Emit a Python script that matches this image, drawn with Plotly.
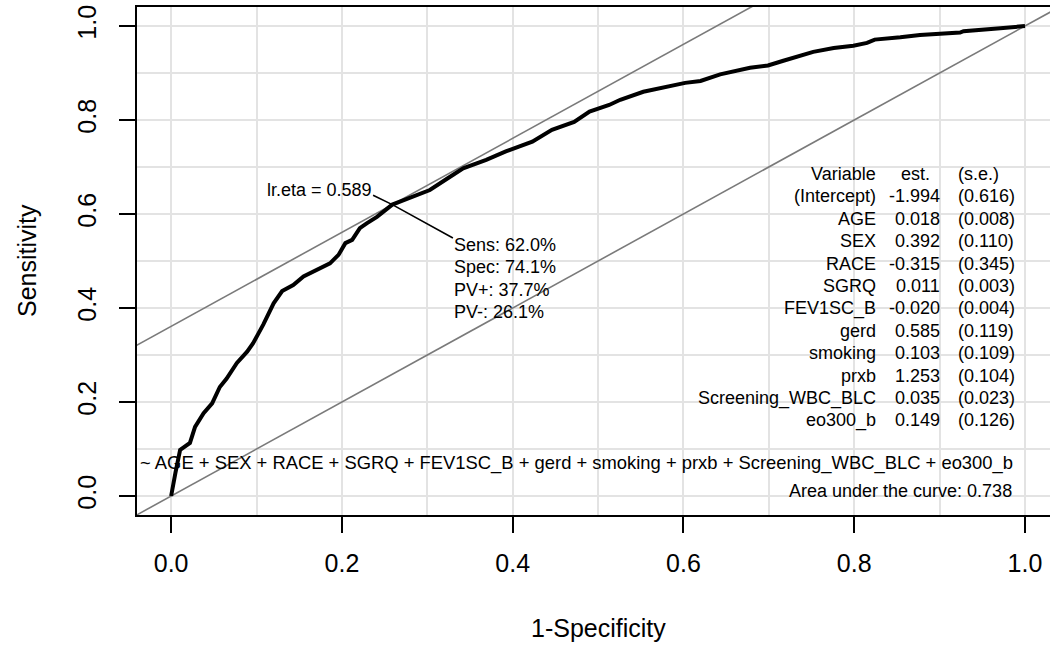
import plotly.graph_objects as go

# ---- data ----
fpr = [0.0, 0.003, 0.005, 0.0105, 0.022, 0.028, 0.038, 0.048, 0.057, 0.065, 0.077, 0.089, 0.096,
       0.108, 0.12, 0.13, 0.143, 0.155, 0.171, 0.186, 0.196, 0.204, 0.212, 0.221, 0.229, 0.241,
       0.259, 0.284, 0.303, 0.324, 0.342, 0.369, 0.392, 0.423, 0.446, 0.472, 0.49, 0.513, 0.526,
       0.553, 0.58, 0.602, 0.62, 0.643, 0.678, 0.699, 0.717, 0.737, 0.752, 0.776, 0.799, 0.815,
       0.824, 0.854, 0.877, 0.924, 0.928, 0.971, 1.0]
tpr = [0.0, 0.034, 0.049, 0.098, 0.113, 0.147, 0.176, 0.197, 0.232, 0.25, 0.283, 0.307, 0.325,
       0.365, 0.41, 0.436, 0.449, 0.467, 0.481, 0.495, 0.513, 0.538, 0.545, 0.57, 0.58, 0.594,
       0.620, 0.637, 0.651, 0.676, 0.697, 0.715, 0.733, 0.754, 0.779, 0.796, 0.818, 0.832, 0.843,
       0.86, 0.87, 0.879, 0.883, 0.897, 0.911, 0.916, 0.926, 0.938, 0.945, 0.953, 0.958, 0.964,
       0.971, 0.976, 0.981, 0.986, 0.989, 0.995, 1.0]

opt_fpr = 1 - 0.741
opt_sens = 0.620
youden_intercept = opt_sens - opt_fpr
lr_eta = "lr.eta = 0.589"
opt_stats = ["Sens: 62.0%", "Spec: 74.1%", "PV+: 37.7%", "PV-: 26.1%"]

variables = ["(Intercept)", "AGE", "SEX", "RACE", "SGRQ", "FEV1SC_B", "gerd", "smoking",
             "prxb", "Screening_WBC_BLC", "eo300_b"]
estimates = ["-1.994", "0.018", "0.392", "-0.315", "0.011", "-0.020", "0.585", "0.103",
             "1.253", "0.035", "0.149"]
std_errors = ["(0.616)", "(0.008)", "(0.110)", "(0.345)", "(0.003)", "(0.004)", "(0.119)",
              "(0.109)", "(0.104)", "(0.023)", "(0.126)"]
formula = "~ " + " + ".join(variables[1:])
auc_text = "Area under the curve: 0.738"

x_ticks = [0.0, 0.2, 0.4, 0.6, 0.8, 1.0]
y_ticks = [0.0, 0.2, 0.4, 0.6, 0.8, 1.0]

# ---- layout constants ----
W, H = 1050, 645
ML, MR, MT, MB = 137, 0, 7, 130
XR = [-0.04, 1.0293]
YR = [-0.0404, 1.0404]
FONT = "Liberation Sans, Arial, Helvetica, sans-serif"
GRAY = "#7a7a7a"
GRID = "#e3e3e3"

fig = go.Figure()

# reference lines (abline style, extended beyond the plot area and clipped)
ext = [-0.2, 1.2]
fig.add_trace(go.Scatter(x=ext, y=[v for v in ext], mode="lines",
                         line=dict(color=GRAY, width=1.6), hoverinfo="skip"))
fig.add_trace(go.Scatter(x=ext, y=[v + youden_intercept for v in ext], mode="lines",
                         line=dict(color=GRAY, width=1.6), hoverinfo="skip"))

# ROC curve
fig.add_trace(go.Scatter(x=fpr, y=tpr, mode="lines",
                         line=dict(color="black", width=4), hoverinfo="skip"))

# pointer line from lr.eta label to stats text through optimal point
fig.add_trace(go.Scatter(x=[0.2365, opt_fpr, 0.330], y=[0.640, opt_sens, 0.549], mode="lines",
                         line=dict(color="black", width=1.6), hoverinfo="skip"))

annotations = []

def txt(x, y, s, xanchor, size=18):
    annotations.append(dict(x=x, y=y, xref="x", yref="y", text=s, showarrow=False,
                            xanchor=xanchor, yanchor="middle",
                            font=dict(family=FONT, size=size, color="black"), borderpad=0))

txt(0.2365, 0.651, lr_eta, "right")
for i, s in enumerate(opt_stats):
    txt(0.330, (496 - (245 + 22.4 * i)) / 470, s, "left")

# coefficient table
row0 = 174
step = 22.4
txt(0.8267, (496 - row0) / 470, "Variable", "right")
txt(0.890, (496 - row0) / 470, "est.", "right")
txt(0.9204, (496 - row0) / 470, "(s.e.)", "left")
for i, (v, e, se) in enumerate(zip(variables, estimates, std_errors)):
    yy = (496 - (row0 + step * (i + 1))) / 470
    txt(0.8267, yy, v, "right")
    txt(0.9016, yy, e, "right")
    txt(0.9204, yy, se, "left")

txt(0.987, 0.0702, formula, "right", size=18.4)
txt(0.986, 0.0113, auc_text, "right")

# axis titles
annotations.append(dict(x=0.5, y=0, xref="x", yref="paper", yshift=-113, text="1-Specificity",
                        showarrow=False, xanchor="center", yanchor="middle",
                        font=dict(family=FONT, size=25, color="black")))
annotations.append(dict(x=0, y=0.5, xref="paper", yref="y", xshift=-110, text="Sensitivity",
                        showarrow=False, xanchor="center", yanchor="middle", textangle=-90,
                        font=dict(family=FONT, size=25, color="black")))

fig.update_layout(
    width=W, height=H,
    margin=dict(l=ML, r=MR, t=MT, b=MB, pad=0),
    paper_bgcolor="white", plot_bgcolor="white",
    showlegend=False,
    annotations=annotations,
    font=dict(family=FONT, size=25, color="black"),
)
fig.update_xaxes(range=XR, tickmode="array", tickvals=x_ticks,
                 ticktext=[f"{v:.1f}" for v in x_ticks],
                 ticks="outside", ticklen=16, tickwidth=2, tickcolor="black",
                 showline=True, linecolor="black", linewidth=2, mirror=True,
                 showgrid=True, gridcolor=GRID, gridwidth=1.5,
                 minor=dict(dtick=0.1, tick0=0, showgrid=True, gridcolor=GRID, gridwidth=1.5),
                 zeroline=False, ticklabelstandoff=9,
                 tickfont=dict(family=FONT, size=25, color="black"))
fig.update_yaxes(range=YR, tickmode="array", tickvals=y_ticks,
                 ticktext=[f"{v:.1f}" for v in y_ticks], tickangle=-90,
                 ticks="outside", ticklen=16, tickwidth=2, tickcolor="black",
                 showline=True, linecolor="black", linewidth=2, mirror=False,
                 showgrid=True, gridcolor=GRID, gridwidth=1.5,
                 minor=dict(dtick=0.1, tick0=0, showgrid=True, gridcolor=GRID, gridwidth=1.5),
                 zeroline=False, ticklabelstandoff=13,
                 tickfont=dict(family=FONT, size=25, color="black"))

fig.write_html("out.html")
